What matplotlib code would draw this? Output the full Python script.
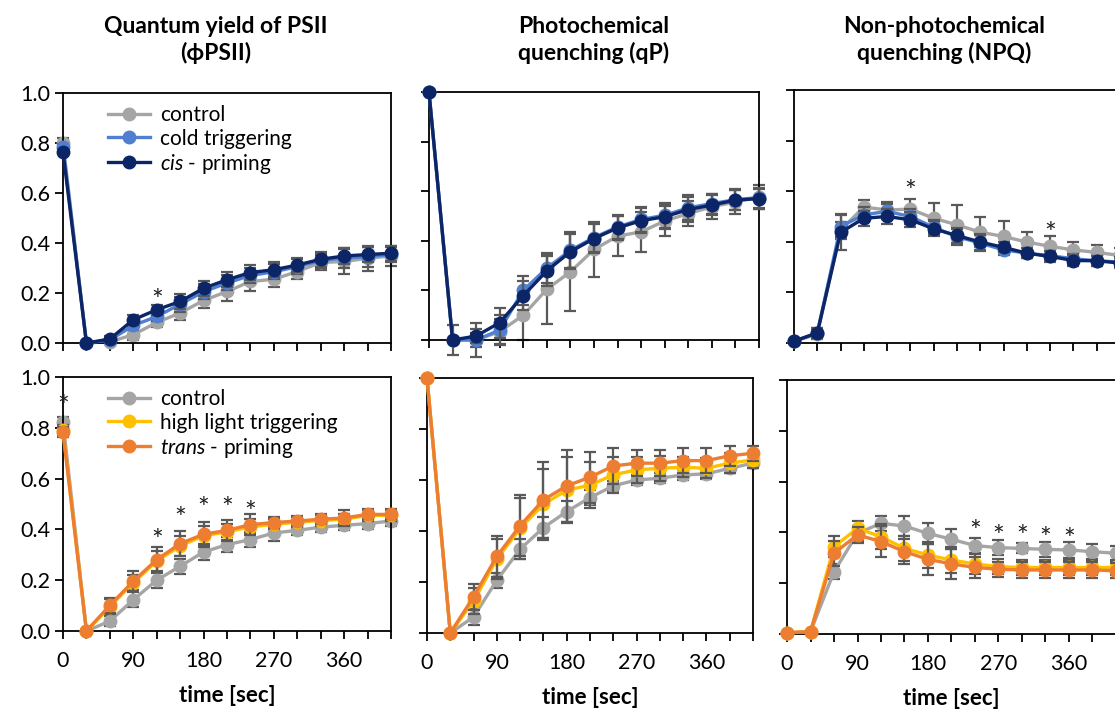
# Chlorophyll fluorescence kinetics: PSII yield, qP, NPQ

import numpy as np
import matplotlib.pyplot as plt

plt.rcParams['font.family'] = ['Lato', 'DejaVu Sans']
plt.rcParams['mathtext.fontset'] = 'custom'
plt.rcParams['mathtext.it'] = 'Lato:italic'
plt.rcParams['mathtext.rm'] = 'Lato'

time = [0, 30, 60, 90, 120, 150, 180, 210, 240, 270, 300, 330, 360, 390, 420]

# ---- top row: control / cold triggering / cis-priming ----
phi_control = [0.80, 0.0, 0.005, 0.033, 0.082, 0.12, 0.17, 0.206, 0.246, 0.255, 0.286, 0.322, 0.326, 0.339, 0.348]
phi_cold = [0.785, 0.0, 0.012, 0.07, 0.106, 0.155, 0.205, 0.24, 0.27, 0.285, 0.305, 0.33, 0.34, 0.345, 0.355]
phi_cis = [0.765, 0.0, 0.016, 0.093, 0.133, 0.166, 0.219, 0.253, 0.282, 0.293, 0.312, 0.335, 0.348, 0.354, 0.359]
phi_control_err = [0.02, 0, 0.01, 0.02, 0.02, 0.03, 0.03, 0.04, 0.04, 0.03, 0.03, 0.03, 0.05, 0.05, 0.04]
phi_cold_err = [0.01, 0, 0.01, 0.02, 0.02, 0.03, 0.03, 0.03, 0.03, 0.03, 0.03, 0.03, 0.04, 0.04, 0.03]
phi_cis_err = [0.01, 0, 0.01, 0.02, 0.02, 0.03, 0.03, 0.03, 0.03, 0.03, 0.03, 0.03, 0.03, 0.03, 0.03]

qp_control = [1.0, 0.0, 0.0, 0.034, 0.10, 0.205, 0.275, 0.365, 0.419, 0.436, 0.48, 0.51, 0.537, 0.557, 0.577]
qp_cold = [1.0, 0.0, 0.0, 0.04, 0.20, 0.29, 0.362, 0.413, 0.456, 0.486, 0.503, 0.533, 0.55, 0.566, 0.574]
qp_cis = [1.0, 0.0, 0.016, 0.07, 0.179, 0.279, 0.356, 0.409, 0.452, 0.481, 0.497, 0.526, 0.544, 0.564, 0.570]
qp_control_err = [0, 0.06, 0.07, 0.05, 0.10, 0.14, 0.16, 0.11, 0.08, 0.08, 0.06, 0.05, 0.05, 0.05, 0.05]
qp_cold_err = [0, 0.0, 0.03, 0.06, 0.06, 0.06, 0.07, 0.06, 0.05, 0.05, 0.05, 0.05, 0.04, 0.04, 0.04]
qp_cis_err = [0, 0.0, 0.03, 0.06, 0.06, 0.06, 0.07, 0.06, 0.05, 0.05, 0.05, 0.05, 0.04, 0.04, 0.04]

npq_control = [0.007, 0.035, 0.447, 0.537, 0.526, 0.529, 0.493, 0.467, 0.438, 0.421, 0.399, 0.382, 0.368, 0.358, 0.346]
npq_cold = [0.007, 0.04, 0.46, 0.507, 0.52, 0.50, 0.457, 0.42, 0.395, 0.368, 0.355, 0.345, 0.333, 0.325, 0.32]
npq_cis = [0.007, 0.04, 0.437, 0.493, 0.50, 0.487, 0.451, 0.425, 0.399, 0.378, 0.355, 0.342, 0.326, 0.325, 0.316]
npq_control_err = [0, 0.02, 0.03, 0.03, 0.03, 0.04, 0.06, 0.08, 0.06, 0.06, 0.04, 0.04, 0.03, 0.03, 0.03]
npq_cold_err = [0, 0.02, 0.05, 0.03, 0.03, 0.03, 0.03, 0.03, 0.03, 0.02, 0.02, 0.02, 0.02, 0.02, 0.02]
npq_cis_err = [0, 0.02, 0.07, 0.03, 0.03, 0.03, 0.03, 0.03, 0.03, 0.02, 0.02, 0.02, 0.02, 0.02, 0.02]

# ---- bottom row: control / high light triggering / trans-priming ----
phi2_control = [0.823, 0.0, 0.039, 0.123, 0.20, 0.255, 0.311, 0.34, 0.36, 0.386, 0.396, 0.409, 0.416, 0.423, 0.433]
phi2_hl = [0.79, 0.0, 0.095, 0.19, 0.275, 0.335, 0.375, 0.39, 0.41, 0.42, 0.428, 0.435, 0.44, 0.455, 0.455]
phi2_trans = [0.783, 0.0, 0.101, 0.196, 0.281, 0.344, 0.381, 0.396, 0.419, 0.427, 0.433, 0.44, 0.445, 0.459, 0.459]
phi2_control_err = [0.02, 0, 0.02, 0.03, 0.03, 0.03, 0.03, 0.03, 0.03, 0.03, 0.02, 0.02, 0.02, 0.02, 0.02]
phi2_hl_err = [0.02, 0, 0.03, 0.03, 0.04, 0.04, 0.04, 0.03, 0.03, 0.02, 0.02, 0.02, 0.02, 0.02, 0.02]
phi2_trans_err = [0.02, 0, 0.03, 0.04, 0.05, 0.05, 0.05, 0.04, 0.04, 0.02, 0.02, 0.02, 0.03, 0.02, 0.02]

qp2_control = [1.0, 0.0, 0.063, 0.207, 0.329, 0.413, 0.476, 0.531, 0.577, 0.60, 0.607, 0.62, 0.624, 0.646, 0.666]
qp2_hl = [1.0, 0.0, 0.125, 0.29, 0.41, 0.505, 0.56, 0.58, 0.62, 0.64, 0.646, 0.65, 0.646, 0.666, 0.679]
qp2_trans = [1.0, 0.0, 0.142, 0.301, 0.421, 0.522, 0.577, 0.611, 0.655, 0.666, 0.666, 0.676, 0.676, 0.695, 0.705]
qp2_control_err = [0, 0, 0.03, 0.03, 0.04, 0.04, 0.04, 0.03, 0.02, 0.02, 0.02, 0.02, 0.02, 0.02, 0.02]
qp2_hl_err = [0, 0, 0.05, 0.08, 0.12, 0.14, 0.13, 0.09, 0.07, 0.05, 0.05, 0.04, 0.04, 0.04, 0.03]
qp2_trans_err = [0, 0, 0.05, 0.08, 0.12, 0.15, 0.14, 0.10, 0.07, 0.05, 0.05, 0.05, 0.05, 0.04, 0.03]

npq2_control = [0.005, 0.009, 0.245, 0.396, 0.436, 0.425, 0.396, 0.373, 0.348, 0.34, 0.337, 0.333, 0.331, 0.324, 0.318]
npq2_hl = [0.005, 0.009, 0.344, 0.416, 0.383, 0.337, 0.311, 0.291, 0.276, 0.265, 0.262, 0.262, 0.262, 0.262, 0.262]
npq2_trans = [0.005, 0.009, 0.318, 0.39, 0.364, 0.324, 0.294, 0.276, 0.262, 0.255, 0.252, 0.252, 0.252, 0.252, 0.249]
npq2_control_err = [0, 0, 0.03, 0.03, 0.03, 0.04, 0.04, 0.04, 0.03, 0.03, 0.02, 0.03, 0.03, 0.03, 0.03]
npq2_hl_err = [0, 0, 0.04, 0.03, 0.05, 0.05, 0.05, 0.05, 0.04, 0.03, 0.03, 0.03, 0.03, 0.03, 0.03]
npq2_trans_err = [0, 0, 0.05, 0.03, 0.06, 0.05, 0.06, 0.06, 0.04, 0.03, 0.03, 0.03, 0.03, 0.03, 0.03]

# significance stars (time, y position)
stars_phi = [(120, 0.175)]
stars_npq = [(150, 0.605), (330, 0.437)]
stars_phi2 = [(0, 0.888), (120, 0.363), (150, 0.449), (180, 0.488), (210, 0.488), (240, 0.472)]
stars_npq2 = [(240, 0.409), (270, 0.39), (300, 0.39), (330, 0.381), (360, 0.377)]

c_control = '#A5A5A5'
c_cold = '#4F7FD0'
c_cis = '#0B2566'
c_hl = '#FFC000'
c_trans = '#ED7D31'
c_err = '#595959'

W, H = 1115, 711
fig = plt.figure(figsize=(W / 100, H / 100), dpi=100)


def rect(l, r, t, b):
    return [l / W, 1 - b / H, (r - l) / W, (b - t) / H]


boxes = [
    [(63, 391, 93, 343), (429, 759, 92, 340), (794, 1120, 90, 343)],
    [(63, 391, 377, 631), (427, 753, 378, 633), (787, 1116, 380, 634)],
]

panels = [
    [[(phi_control, phi_control_err, c_control), (phi_cold, phi_cold_err, c_cold), (phi_cis, phi_cis_err, c_cis)],
     [(qp_control, qp_control_err, c_control), (qp_cold, qp_cold_err, c_cold), (qp_cis, qp_cis_err, c_cis)],
     [(npq_control, npq_control_err, c_control), (npq_cold, npq_cold_err, c_cold), (npq_cis, npq_cis_err, c_cis)]],
    [[(phi2_control, phi2_control_err, c_control), (phi2_hl, phi2_hl_err, c_hl), (phi2_trans, phi2_trans_err, c_trans)],
     [(qp2_control, qp2_control_err, c_control), (qp2_hl, qp2_hl_err, c_hl), (qp2_trans, qp2_trans_err, c_trans)],
     [(npq2_control, npq2_control_err, c_control), (npq2_hl, npq2_hl_err, c_hl), (npq2_trans, npq2_trans_err, c_trans)]],
]

stars = [[stars_phi, [], stars_npq], [stars_phi2, [], stars_npq2]]
labels = [['control', 'cold triggering', r'$\it{cis}$ - priming'],
          ['control', 'high light triggering', r'$\it{trans}$ - priming']]

for row in range(2):
    for col in range(3):
        ax = fig.add_axes(rect(*boxes[row][col]))
        handles = []
        for k, (vals, errs, c) in enumerate(panels[row][col]):
            ax.errorbar(time, vals, yerr=errs, color=c_err, lw=0, elinewidth=1.6,
                        capsize=4, capthick=1.6, zorder=2 + k, clip_on=False)
            h, = ax.plot(time, vals, color=c, lw=2.4, marker='o', markersize=9,
                         zorder=2.5 + k, clip_on=False)
            handles.append(h)
        for (tx, ty) in stars[row][col]:
            ax.text(tx, ty - 0.012, '*', ha='center', va='center', fontsize=20, color='#222222')
        ax.set_xlim(0, 420)
        ax.set_ylim(0, 1.0)
        ax.set_xticks(time, minor=True)
        ax.set_xticks([0, 90, 180, 270, 360])
        ax.set_yticks(np.arange(0, 1.01, 0.2))
        ax.tick_params(which='both', direction='out', length=5.5, width=1.3, color='black')
        ax.tick_params(axis='both', labelsize=15.5)
        for s in ax.spines.values():
            s.set_linewidth(1.3)
        if col == 0:
            ax.set_yticklabels(['%.1f' % v for v in np.arange(0, 1.01, 0.2)])
            ax.legend(handles, labels[row], loc='upper left', bbox_to_anchor=(0.08, 1.025),
                      frameon=False, fontsize=15, handlelength=2.0, labelspacing=0.15,
                      handletextpad=0.5)
        else:
            ax.set_yticklabels([])
        if row == 1:
            ax.set_xlabel('time [sec]', fontsize=16, fontweight='bold', labelpad=10)
            ax.tick_params(axis='x', pad=9)
        else:
            ax.set_xticklabels([])

titles = ['Quantum yield of PSII\n(ϕPSII)', 'Photochemical\nquenching (qP)',
          'Non-photochemical\nquenching (NPQ)']
title_x = [216, 594, 944]
for tt, tx in zip(titles, title_x):
    fig.text(tx / W, 1 - 40 / H, tt, ha='center', va='center', fontsize=16.5,
             fontweight='bold', linespacing=1.3)

plt.savefig('out.png', dpi=100)
